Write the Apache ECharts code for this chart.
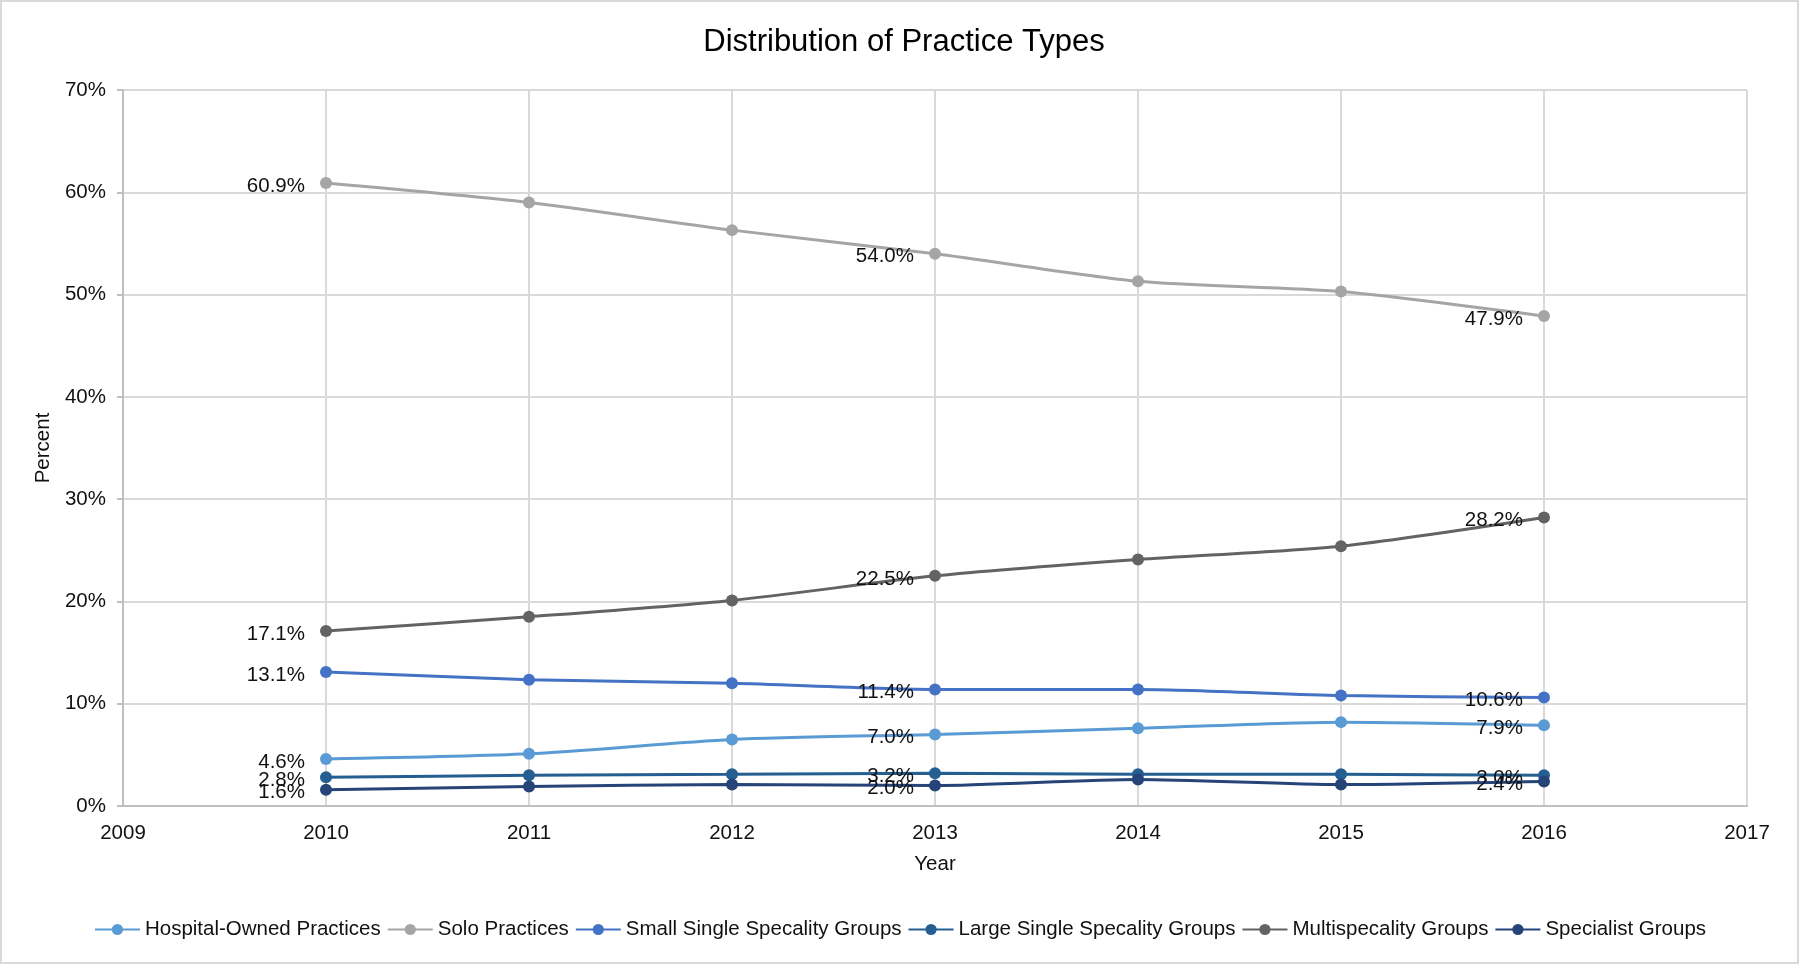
<!DOCTYPE html>
<html>
<head>
<meta charset="utf-8">
<script src="https://cdn.jsdelivr.net/npm/echarts@6/dist/echarts.min.js"></script>
<style>
html,body{margin:0;padding:0;background:#fff;}
#chart{width:1800px;height:965px;}
</style>
</head>
<body>
<div id="chart"></div>
<script>
const years = [2010, 2011, 2012, 2013, 2014, 2015, 2016];
const labeledYears = [2010, 2013, 2016];
const yTicks = [0, 10, 20, 30, 40, 50, 60, 70];

const seriesNames = [
  "Hospital-Owned Practices",
  "Solo Practices",
  "Small Single Specality Groups",
  "Large Single Specality Groups",
  "Multispecality Groups",
  "Specialist Groups"
];
const hospitalOwned = [4.6, 5.1, 6.5, 7.0, 7.6, 8.2, 7.9];
const soloPractices = [60.9, 59.0, 56.3, 54.0, 51.3, 50.3, 47.9];
const smallSingle = [13.1, 12.35, 12.0, 11.4, 11.4, 10.8, 10.6];
const largeSingle = [2.8, 3.0, 3.1, 3.2, 3.1, 3.1, 3.0];
const multispecialty = [17.1, 18.5, 20.1, 22.5, 24.1, 25.4, 28.2];
const specialist = [1.6, 1.9, 2.1, 2.0, 2.6, 2.1, 2.4];

const seriesValues = [hospitalOwned, soloPractices, smallSingle, largeSingle, multispecialty, specialist];
const colors = ["#5B9BD5", "#A5A5A5", "#4472C4", "#255E91", "#636363", "#264478"];

const FONT = "Liberation Sans, Arial, sans-serif";
const FS = 20.5;

const series = seriesNames.map((name, i) => ({
  name: name,
  type: "line",
  smooth: 0.25,
  symbol: "circle",
  symbolSize: 12,
  lineStyle: { width: 3, color: colors[i] },
  itemStyle: { color: colors[i] },
  data: years.map((y, j) => ({
    value: [y, seriesValues[i][j]],
    label: { show: labeledYears.indexOf(y) >= 0 }
  })),
  label: {
    position: "left",
    distance: 15,
    offset: [0, 3],
    fontFamily: FONT,
    fontSize: FS,
    color: "#111",
    formatter: p => p.value[1].toFixed(1) + "%"
  },
  z: 2 + i
}));

const chart = echarts.init(document.getElementById("chart"), null, { renderer: "canvas" });
chart.setOption({
  animation: false,
  backgroundColor: "#fff",
  color: colors,
  title: {
    text: "Distribution of Practice Types",
    left: 899,
    textAlign: "center",
    top: 22,
    textStyle: { fontFamily: FONT, fontSize: 31, fontWeight: "normal", color: "#000" }
  },
  graphic: [{
    type: "rect",
    shape: { x: 1, y: 1, width: 1797, height: 962 },
    style: { fill: null, stroke: "#d9d9d9", lineWidth: 2 },
    silent: true
  }],
  legend: {
    top: 914,
    left: "center",
    itemWidth: 45,
    itemHeight: 14,
    itemGap: 6,
    textStyle: { fontFamily: FONT, fontSize: FS, color: "#111" },
    data: seriesNames
  },
  grid: { left: 123, right: 53, top: 90, bottom: 159, containLabel: false },
  xAxis: {
    type: "value",
    min: 2009,
    max: 2017,
    interval: 1,
    name: "Year",
    nameLocation: "middle",
    nameGap: 48,
    nameTextStyle: { fontFamily: FONT, fontSize: FS, color: "#111" },
    axisLine: { show: true, lineStyle: { color: "#bfbfbf", width: 2 } },
    axisTick: { show: false },
    axisLabel: { fontFamily: FONT, fontSize: FS, color: "#111", margin: 17, formatter: v => String(v) },
    splitLine: { show: true, lineStyle: { color: "#d9d9d9", width: 2 } }
  },
  yAxis: {
    type: "value",
    min: yTicks[0],
    max: yTicks[yTicks.length - 1],
    interval: 10,
    name: "Percent",
    nameLocation: "middle",
    nameRotate: 90,
    nameGap: 66,
    nameTextStyle: { fontFamily: FONT, fontSize: FS, color: "#111" },
    axisLine: { show: true, lineStyle: { color: "#bfbfbf", width: 2 } },
    axisTick: { show: true, length: 6, lineStyle: { color: "#bfbfbf", width: 2 } },
    axisLabel: { fontFamily: FONT, fontSize: FS, color: "#111", margin: 17, formatter: "{value}%" },
    splitLine: { show: true, lineStyle: { color: "#d9d9d9", width: 2 } }
  },
  series: series
});
</script>
</body>
</html>
